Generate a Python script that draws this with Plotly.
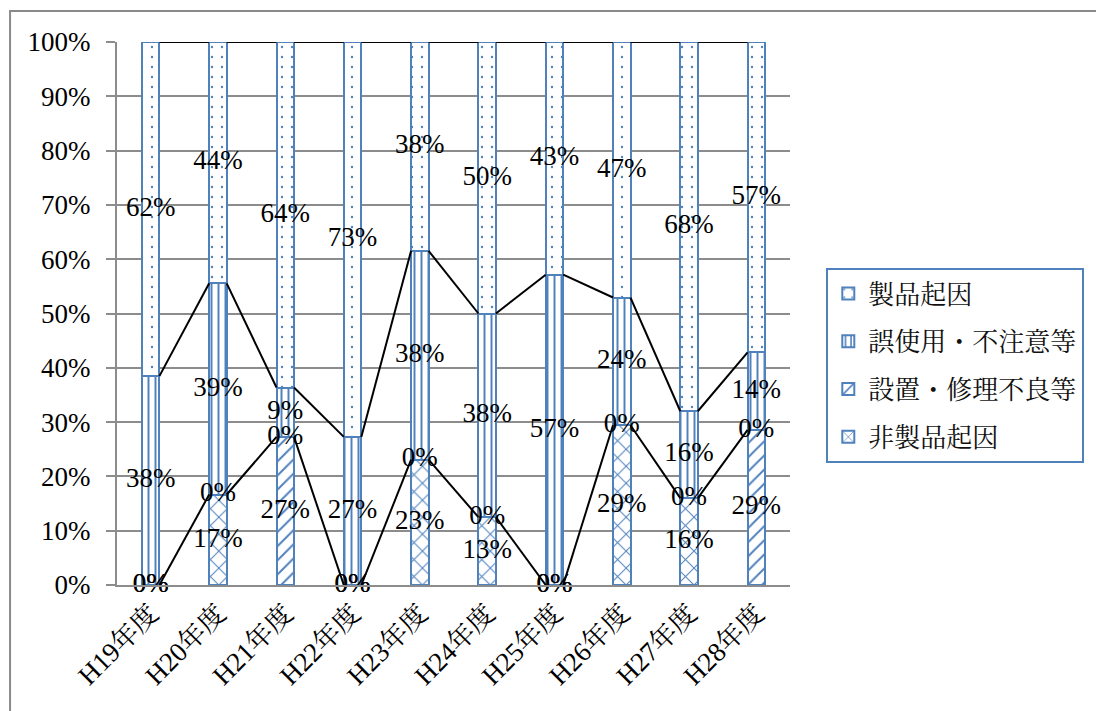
import math
import plotly.graph_objects as go

# fiscal years on the category axis
years = ["H19年度", "H20年度", "H21年度", "H22年度", "H23年度",
         "H24年度", "H25年度", "H26年度", "H27年度", "H28年度"]

# number of cases per year, by cause
non_product = [0, 3, 0, 0, 3, 1, 0, 5, 4, 0]        # 非製品起因
install_repair = [0, 0, 3, 0, 0, 0, 0, 0, 0, 2]     # 設置・修理不良等
misuse = [5, 7, 1, 3, 5, 3, 4, 4, 4, 1]             # 誤使用・不注意等
product = [8, 8, 7, 8, 5, 4, 3, 8, 17, 4]           # 製品起因

series_names = ["非製品起因", "設置・修理不良等", "誤使用・不注意等", "製品起因"]
series_values = [non_product, install_repair, misuse, product]

BLUE = "#4f81bd"
GRID = "#8c8c8c"
LATIN = "Liberation Serif, Noto Serif CJK JP, Noto Sans CJK JP, serif"
CJK = "Noto Serif CJK JP, Noto Sans CJK JP, sans-serif"

# plot-area geometry in pixels (used for the outer frame and legend)
W, H = 1096, 711
L, R, T, B = 117, 803, 42, 585

patterns = [("x", 12, 0.16), ("/", 10, 0.2), ("|", 7, 0.28), (".", 10, 0.045)]
bar_width = 0.26

n = len(years)
totals = [sum(v[i] for v in series_values) for i in range(n)]
shares = [[v[i] / totals[i] for i in range(n)] for v in series_values]
xs = list(range(n))


def pct(s):
    return f"{math.floor(s * 100 + 0.5)}%"


fig = go.Figure()

for k, (name, sh) in enumerate(zip(series_names, shares)):
    shape, size, solidity = patterns[k]
    fig.add_trace(go.Bar(
        x=xs, y=sh, name=name, width=bar_width,
        legendgroup=name, legendrank=len(series_names) - k,
        marker=dict(
            color="white",
            line=dict(color=BLUE, width=2),
            pattern=dict(shape=shape, size=size, solidity=solidity,
                         fgcolor=BLUE, bgcolor="white", fillmode="replace"),
        ),
        hoverinfo="skip",
    ))

# cumulative boundaries of the stack
np_s, ir_s, mu_s, pr_s = shares
lower = [np_s[i] + ir_s[i] for i in range(n)]
upper = [lower[i] + mu_s[i] for i in range(n)]
full = [lower[i] + mu_s[i] + pr_s[i] for i in range(n)]

# series lines joining the boundaries of neighbouring bars
for level in (lower, upper, full):
    lx, ly = [], []
    for i in range(n - 1):
        lx += [xs[i] + bar_width / 2, xs[i + 1] - bar_width / 2, None]
        ly += [level[i], level[i + 1], None]
    fig.add_trace(go.Scatter(x=lx, y=ly, mode="lines",
                             line=dict(color="black", width=2),
                             showlegend=False, hoverinfo="skip"))

# data labels: centred in each segment; an empty lower segment is
# labelled at the top of the lower pair
label_y = [
    [np_s[i] / 2 if np_s[i] > 0 else lower[i] for i in range(n)],
    [np_s[i] + ir_s[i] / 2 for i in range(n)],
    [lower[i] + mu_s[i] / 2 for i in range(n)],
    [upper[i] + pr_s[i] / 2 for i in range(n)],
]
for k in range(4):
    fig.add_trace(go.Scatter(
        x=xs, y=label_y[k], mode="text",
        text=[pct(s) for s in shares[k]],
        textposition="middle center",
        textfont=dict(family=LATIN, size=27, color="black"),
        showlegend=False, hoverinfo="skip", cliponaxis=False,
    ))

pw, ph = R - L, B - T


def px_x(p):
    return (p - L) / pw


def px_y(p):
    return (B - p) / ph


fig.add_shape(type="rect", xref="paper", yref="paper",
              x0=px_x(8), x1=px_x(W + 20), y0=px_y(H + 20), y1=px_y(11),
              line=dict(color="#8a8a8a", width=2), fillcolor="rgba(0,0,0,0)",
              layer="below")

fig.update_layout(
    width=W, height=H,
    margin=dict(l=L, r=W - R, t=T, b=H - B),
    paper_bgcolor="white", plot_bgcolor="white",
    barmode="stack",
    showlegend=True,
    legend=dict(
        x=px_x(840), y=px_y(268), xanchor="left", yanchor="top",
        traceorder="grouped", tracegroupgap=11,
        bordercolor=BLUE, borderwidth=2, bgcolor="white",
        font=dict(family=CJK, size=26, color="#111111"),
    ),
    xaxis=dict(
        range=[-0.5, n - 0.5],
        tickmode="array", tickvals=xs, ticktext=years,
        tickangle=-45,
        tickfont=dict(family=LATIN, size=27, color="black"),
        showgrid=False, zeroline=False,
        showline=True, linecolor=GRID, linewidth=2,
        ticks="",
    ),
    yaxis=dict(
        range=[0, 1], dtick=0.1, tickformat=".0%",
        tickfont=dict(family=LATIN, size=27, color="black"),
        showgrid=True, gridcolor=GRID, gridwidth=2,
        zeroline=False,
        showline=True, linecolor=GRID, linewidth=2,
        ticks="outside", ticklen=9, tickwidth=2, tickcolor=GRID,
        ticklabelstandoff=10,
    ),
)

fig.write_html("out.html")
